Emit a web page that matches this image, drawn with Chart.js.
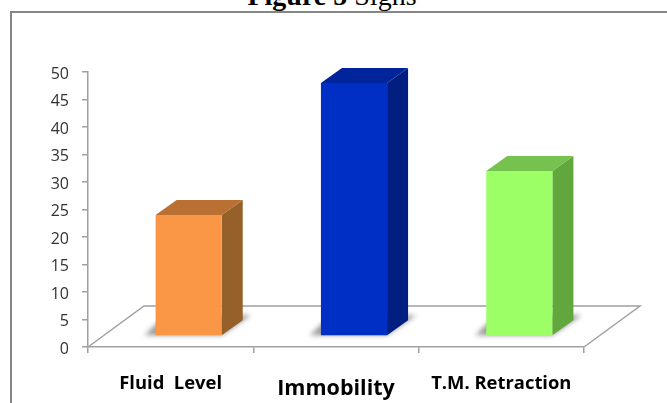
<!DOCTYPE html>
<html>
<head>
<meta charset="utf-8">
<style>
  html, body { margin: 0; padding: 0; background: #fff; overflow: hidden; }
  #wrap { position: relative; width: 667px; height: 403px; overflow: hidden; }
  #frame { position: absolute; left: 10px; top: 11px; width: 700px; height: 440px; border: 2px solid #868686; box-sizing: border-box; }
  #heading { position: absolute; left: 0; width: 664px; top: -20px; text-align: center; font: 28px "Liberation Serif", serif; color: #000; }
  canvas { position: absolute; left: 0; top: 0; }
</style>
<script src="https://cdn.jsdelivr.net/npm/chart.js@4"></script>
</head>
<body>
<div id="wrap">
  <div id="frame"></div>
  <div id="heading"><b>Figure 5</b> Signs</div>
  <canvas id="chart-signs" width="667" height="403"></canvas>
</div>
<script>
const CATEGORIES = ["Fluid  Level", "Immobility", "T.M. Retraction"];
const VALUES = [22, 46, 30];
const Y_MAX = 50;
const Y_STEP = 5;

const FRONT_COLORS = ["#f99746", "#002fc6", "#9cff66"];
const SIDE_COLORS = ["#96602a", "#001f80", "#62a63e"];
const TOP_COLORS = ["#b97032", "#00249c", "#75c24e"];
const AXIS_COLOR = "#a0a0a0";

// 3D look: the bars stand on a floor, front face moved in from the axis
const BAR_SHIFT = { x: 18, y: -11 };
const DEPTH = { x: 21, y: -15 };
const FLOOR = { x: 56, y: -41 };

const poly = (ctx, pts) => {
  ctx.beginPath();
  pts.forEach((p, i) => (i ? ctx.lineTo(p[0], p[1]) : ctx.moveTo(p[0], p[1])));
  ctx.closePath();
};

const bars3d = {
  id: "bars3d",
  beforeDatasetsDraw(chart) {
    const { ctx, chartArea: a } = chart;

    // Floor
    ctx.save();
    ctx.strokeStyle = AXIS_COLOR;
    ctx.lineWidth = 1.5;
    ctx.beginPath();
    ctx.moveTo(a.left, a.bottom);
    ctx.lineTo(a.left + FLOOR.x, a.bottom + FLOOR.y);
    ctx.lineTo(a.right + FLOOR.x, a.bottom + FLOOR.y);
    ctx.lineTo(a.right, a.bottom);
    ctx.stroke();
    ctx.restore();

    ctx.save();
    ctx.translate(BAR_SHIFT.x, BAR_SHIFT.y);
    chart.getDatasetMeta(0).data.forEach((bar, i) => {
      const l = bar.x - bar.width / 2;
      const r = bar.x + bar.width / 2;
      const t = bar.y;
      const b = bar.base;

      // Shadow on the floor
      ctx.save();
      ctx.filter = "blur(2.5px)";
      ctx.fillStyle = "#989898";
      poly(ctx, [[l - 11, b], [l + 10, b - 20], [r + 29, b - 20], [r, b]]);
      ctx.fill();
      ctx.restore();

      ctx.fillStyle = SIDE_COLORS[i];
      poly(ctx, [[r, t], [r + DEPTH.x, t + DEPTH.y], [r + DEPTH.x, b + DEPTH.y], [r, b]]);
      ctx.fill();

      ctx.fillStyle = TOP_COLORS[i];
      poly(ctx, [[l, t], [l + DEPTH.x, t + DEPTH.y], [r + DEPTH.x, t + DEPTH.y], [r, t]]);
      ctx.fill();
    });
  },
  afterDatasetsDraw(chart) {
    chart.ctx.restore();
  },
};

const CONFIG = {
  type: "bar",
  data: {
    labels: CATEGORIES,
    datasets: [
      {
        data: VALUES,
        backgroundColor: FRONT_COLORS,
        barPercentage: 0.4,
        categoryPercentage: 1,
      },
    ],
  },
  plugins: [bars3d],
  options: {
    responsive: false,
    animation: false,
    layout: { padding: { top: 72, right: 83, left: 0, bottom: 0 } },
    plugins: { legend: { display: false }, tooltip: { enabled: false } },
    scales: {
      x: {
        afterFit: (scale) => { scale.height = 56; },
        border: { color: AXIS_COLOR, width: 1.5 },
        grid: { drawOnChartArea: false, color: AXIS_COLOR, lineWidth: 1.5, tickLength: 6 },
        ticks: {
          color: "#000",
          padding: 20,
          maxRotation: 0,
          autoSkip: false,
          font: (c) => ({
            family: "'Open Sans', sans-serif",
            weight: "bold",
            size: c.index === 1 ? 21.5 : 18.4,
            lineHeight: c.index === 1 ? 1.5 : 1.2,
          }),
        },
      },
      y: {
        min: 0,
        max: Y_MAX,
        afterFit: (scale) => { scale.width = 88; },
        border: { color: AXIS_COLOR, width: 1.5 },
        grid: { drawOnChartArea: false, color: AXIS_COLOR, lineWidth: 1.5, tickLength: 6 },
        ticks: {
          stepSize: Y_STEP,
          color: "#333",
          padding: 13,
          labelOffset: 2,
          font: { family: "'Open Sans', sans-serif", size: 16 },
        },
      },
    },
  },
};

new Chart(document.getElementById("chart-signs"), CONFIG);
</script>
</body>
</html>
